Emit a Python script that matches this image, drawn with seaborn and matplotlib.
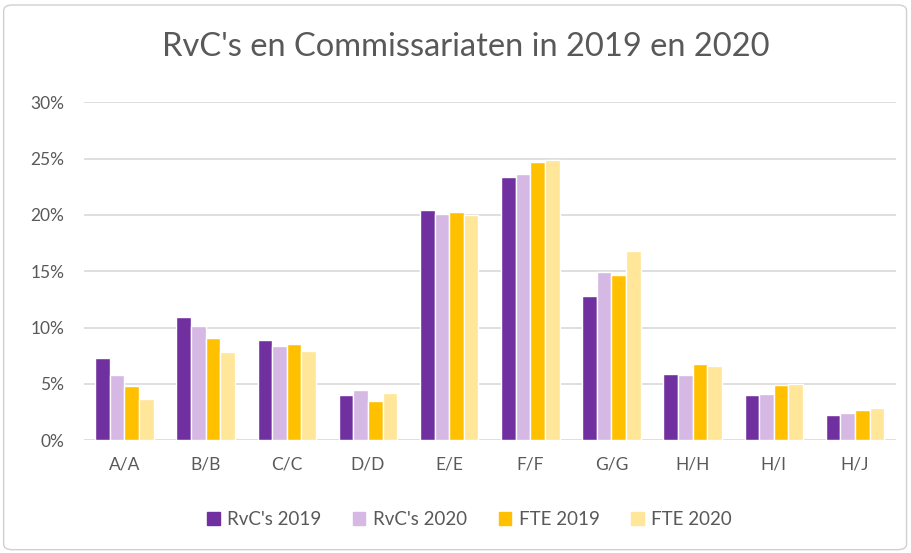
import matplotlib
matplotlib.use("Agg")
import matplotlib.pyplot as plt
import matplotlib.patches as mpatches
from matplotlib.ticker import PercentFormatter
import pandas as pd
import seaborn as sns

# Chart data (shares per unit)
categories = ["A/A", "B/B", "C/C", "D/D", "E/E", "F/F", "G/G", "H/H", "H/I", "H/J"]
series_names = ["RvC's 2019", "RvC's 2020", "FTE 2019", "FTE 2020"]
rvc_2019 = [7.3, 10.9, 8.9, 4.0, 20.4, 23.4, 12.8, 5.9, 4.0, 2.2]
rvc_2020 = [5.8, 10.1, 8.4, 4.5, 20.1, 23.6, 14.9, 5.8, 4.1, 2.4]
fte_2019 = [4.8, 9.1, 8.5, 3.5, 20.3, 24.7, 14.7, 6.8, 4.9, 2.7]
fte_2020 = [3.7, 7.8, 7.9, 4.2, 20.0, 24.9, 16.8, 6.6, 5.0, 2.9]

colors = ["#7030A0", "#D5B8E4", "#FFC000", "#FFE699"]
text_color = "#595959"

rows = []
for name, values in zip(series_names, [rvc_2019, rvc_2020, fte_2019, fte_2020]):
    for cat, v in zip(categories, values):
        rows.append({"categorie": cat, "reeks": name, "waarde": v / 100})
df = pd.DataFrame(rows)

sns.set_theme(style="white")
plt.rcParams["font.family"] = ["Lato", "DejaVu Sans"]

fig = plt.figure(figsize=(9.12, 5.53), dpi=100)
ax = fig.add_axes([0.092, 0.204, 0.89, 0.611])

sns.barplot(data=df, x="categorie", y="waarde", hue="reeks", order=categories,
            hue_order=series_names, palette=colors, width=0.72,
            edgecolor="white", linewidth=1, saturation=1, ax=ax)

ax.set_ylim(0, 0.30)
ax.set_yticks([0, 0.05, 0.10, 0.15, 0.20, 0.25, 0.30])
ax.yaxis.set_major_formatter(PercentFormatter(1.0, decimals=0))
ax.grid(axis="y", color="#D9D9D9", linewidth=1.2)
ax.set_axisbelow(True)
for s in ax.spines.values():
    s.set_visible(False)
ax.set_xlabel("")
ax.set_ylabel("")
ax.tick_params(axis="both", length=0, labelsize=12.5, colors=text_color, pad=12)
ax.tick_params(axis="y", pad=14)

fig.text(0.511, 0.915, "RvC's en Commissariaten in 2019 en 2020", fontsize=23.5,
         color=text_color, ha="center", va="center")

handles = [mpatches.Patch(color=c, label=n) for c, n in zip(colors, series_names)]
ax.get_legend().remove()
fig.legend(handles=handles, loc="center", bbox_to_anchor=(0.515, 0.06), ncol=4,
           frameon=False, fontsize=13.5, handlelength=0.65, handleheight=0.65,
           handletextpad=0.4, columnspacing=1.7, labelcolor=text_color)

border = mpatches.FancyBboxPatch((0.004, 0.006), 0.99, 0.985,
                                 boxstyle="round,pad=0,rounding_size=0.01",
                                 transform=fig.transFigure, fill=False,
                                 edgecolor="#D0D0D0", linewidth=1)
fig.patches.append(border)

fig.savefig("out.png", dpi=100)
